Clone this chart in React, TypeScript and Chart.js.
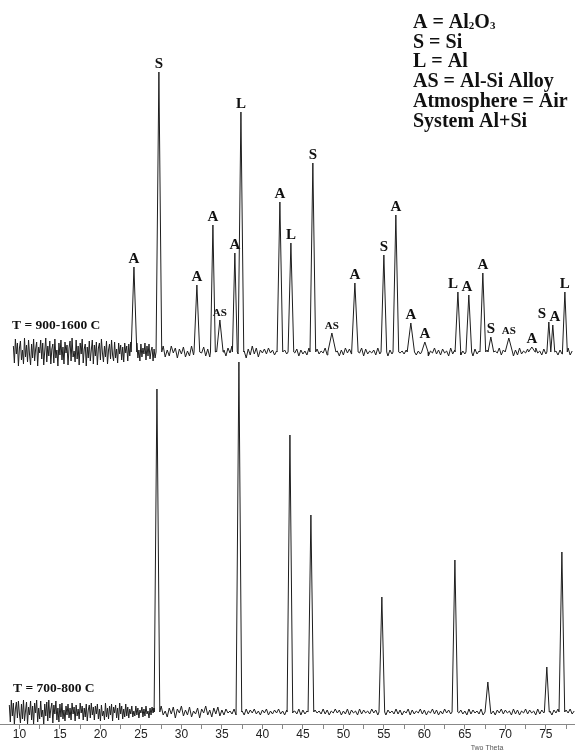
import React, { useEffect, useRef } from 'react';
import { Chart, registerables } from 'chart.js';

Chart.register(...registerables);

// ---------- scan / layout constants (data units) ----------
const TOP_BASELINE = 372; // vertical offset of the upper pattern (a.u.)
const BOTTOM_BASELINE = 12;
const Y_MAX = 724;
const X_MIN = 7.6;
const X_MAX = 78.6;

// ---------- axis ----------
const majorTicks = [10, 15, 20, 25, 30, 35, 40, 45, 50, 55, 60, 65, 70, 75];
const tickLabels = ['10', '15', '20', '25', '30', '35', '40', '45', '50', '55', '60', '65', '70', '75'];
const xAxisTitle = 'Two Theta';

// ---------- text ----------
const seriesNames = ['T = 900-1600 C', 'T = 700-800 C'];
const legendLines = ['A = Al2O3', 'S = Si', 'L = Al', 'AS = Al-Si Alloy', 'Atmosphere = Air', 'System Al+Si'];

// ---------- background noise (read, a.u.) ----------
// upper pattern: fine steps (0.125) at low angle, 0.25 above 27.25
const TOP_LOW_START = 9.25;
const TOP_LOW_STEP = 0.125;
const topNoiseLow = [
  6, -11, 13, -2, 9, -14, 4, 11, -8, 2, -12, 14, -5, 7, -10, 12, -3, -13, 8, -6,
  13, -9, 3, 10, -14, 5, -1, 12, -7, 9, -13, 1, 14, -10, 6, -4, 11, -12, 3, 8,
  -11, 13, -6, 2, -14, 9, -3, 12, -8, 5, -12, 10, -1, 7, -13, 4, 11, -9, 14, -5,
  1, -10, 12, -7, 6, -13, 9, -2, 13, -11, 3, 8, -14, 5, -6, 11, -9, 2, 12, -12,
  7, -4, 10, -13, 4, 9, -8, 13, -1, -10, 6, -5, 11, -12, 2, 8, -7, 12, -3, -9,
  10, -6, 3, -11, 9, -2, 7, -8, 5, -10, 9, -1, 6, -9, 8, -4, 10, -7, 3, -8,
  7, -3, 9, -6, 2, -9, 8, -5, 4, -2, 9, -8, 6, -4, 8, -7, 1, 5, -9, 3,
  -6, 8, -4,
];
const TOP_HIGH_START = 27.25;
const TOP_HIGH_STEP = 0.25;
const topNoiseHigh = [
  5, -3, 6, -5, 2, -4, 6, -1, 4, -6, 3, -2, 5, -5, 1, -4, 6, -3, 2, -6,
  4, -1, 5, -4, 3, -5, 6, -2, 1, -3, 5, -6, 2, -4, 4, -1, 6, -5, 3, -2,
  5, -4, 1, -6, 3, -3, 6, -2, 4, -5, 2, -1,
  3, -2, 4, -1, 2, -3, 1, -4, 3, -1, 2, -2, 4, -3, 1, -1, 3, -4, 2, -2,
  1, -3, 4, -1, 2, -4, 3, -2, 1, -1, 4, -3, 2, -1, 3, -2, 1, -4, 2, -3,
  4, -1, 3, -2, 1, -3, 2, -1, 4, -4, 3, -2, 1, -1, 2, -3, 4, -2, 3, -1,
  1, -4, 2, -2, 3, -3, 4, -1, 1, -2, 2, -4, 3, -1, 4, -3, 1, -2, 2, -1,
  3, -4, 1, -1, 4, -2, 2, -3, 3, -1, 1, -4, 4, -2, 2, -1, 3, -3, 1, -2,
  4, -1, 2, -4, 3, -2, 1, -3, 4, -1, 2, -2, 3, -4, 1, -1, 4, -3, 2, -2,
  3, -1, 1, -4, 2, -3, 4, -2, 1, -1, 3, -2, 2, -4, 4, -1, 1, -3, 3, -2,
  2, -1, 4, -4, 1, -3, 2, -2, 3, -1, 4, -3, 1,
];
// lower pattern
const BOTTOM_LOW_START = 8.75;
const BOTTOM_LOW_STEP = 0.125;
const bottomNoiseLow = [
  7, -10, 12, -4, 9, -12, 3, 10, -6, 11, -2, -11, 8, -7, 12, -9, 1, 10, -12, 5,
  -3, 11, -8, 6, -12, 9, -1, 12, -10, 4, -7, 11, -5, 2, -12, 8, -4, 10, -9, 12,
  -6, 3, 9, -11, 7, -2, 11, -8, 4, -10, 8, -5, 9, -7, 2, -9, 6, -3, 8, -6,
  4, -8, 9, -2, 5, -9, 7, -4, 3, -7, 9, -1, 6, -8, 4, -5, 8, -9, 2, 7,
  -6, 9, -3, 5, -8, 6, -2, 8, -7, 3, -9, 7, -4, 1, -8, 9, -5, 4, -7, 6,
  -3, 8, -9, 5, -1, 7, -6, 4, -8, 9, -2, 6, -7, 3, -5, 8, -4, 5, -6, 3,
  -2, 6, -5, 1, -4, 6, -3, 4, -6, 2, -1, 5, -5, 3, -4, 6, -2, 1, -6, 4,
  -3, 5, -1, 4,
];
const BOTTOM_HIGH_START = 26.75;
const BOTTOM_HIGH_STEP = 0.25;
const bottomNoiseHigh = [
  -1, 2, -4, 6, -3, 1, -5, 4, -2, 5, -6, 3, -1, 6, -4, 2, -3, 5, -5, 1, -2, 4, -6, 3, -1, 6, -3, 2, -5, 4, -2, 5, -4,
  2, -3, 3, -1, 1, -2, 3, -3, 2, -1, 1, -3, 3, -2, 2, -1, 3, -2, 1, -3,
  2, -1, 3, -3, 1, -2, 2, -1, 3, -2, 1, -3, 2, -2, 3, -1, 1, -2, 3, -3,
  2, -2, 1, -1, 3, -3, 2, -1, 1, -2, 3, -2, 2, -3, 1, -1, 3, -1, 2, -3,
  1, -2, 3, -3, 2, -1, 1, -3, 3, -2, 2, -1, 1, -2, 3, -1, 2, -3, 1, -2,
  3, -3, 2, -1, 1, -2, 3, -2, 2, -3, 1, -1, 3, -3, 2, -2, 1, -1, 3, -2,
  2, -3, 1, -1, 3, -2, 2, -3, 1, -2, 3, -1, 2, -2, 1, -3, 3, -1, 2, -2,
  1, -3, 3, -2, 2, -1, 1, -2, 3, -3, 2, -1, 3, -2, 1, -3, 2, -1, 3, -2,
  2, -1, 1, -3, 3, -2, 2, -3, 1, -1, 3, -2, 2, -1, 1, -3, 3, -2, 2, -1,
  3, -2, 1, -3, 2, -1, 3, -3, 1, -2, 2, -1, 3, -2, 1,
];

// ---------- peaks, upper pattern (T = 900-1600 C) ----------
const topPeakPhase = ['A', 'S', 'A', 'A', 'AS', 'A', 'L', 'A', 'L', 'S', 'AS', 'A', 'S', 'A', 'A', 'A', 'L', 'A', 'A', 'S', 'AS', 'A', 'S', 'A', 'L'];
const topPeakPos = [24.14, 27.22, 31.91, 33.89, 34.75, 36.6, 37.35, 42.16, 43.52, 46.23, 48.58, 51.42, 55.0, 56.48, 58.33, 60.06, 64.14, 65.49, 67.22, 68.21, 70.43, 73.27, 75.37, 75.86, 77.35];
const topPeakHeight = [85, 280, 67, 127, 32, 99, 240, 150, 109, 189, 19, 69, 97, 137, 29, 10, 60, 57, 79, 15, 14, 5, 30, 27, 60];
const topPeakHalfWidth = [0.35, 0.35, 0.35, 0.3, 0.4, 0.3, 0.35, 0.35, 0.35, 0.35, 0.5, 0.4, 0.35, 0.35, 0.45, 0.4, 0.35, 0.35, 0.35, 0.35, 0.45, 0.4, 0.24, 0.24, 0.3];

// ---------- peaks, lower pattern (T = 700-800 C) ----------
const bottomPeakPos = [26.98, 37.1, 43.4, 45.99, 54.75, 63.77, 67.84, 75.12, 76.98];
const bottomPeakHeight = [323, 350, 277, 197, 115, 152, 30, 45, 160];
const bottomPeakHalfWidth = [0.35, 0.35, 0.35, 0.35, 0.35, 0.35, 0.35, 0.3, 0.35];

// label nudges in px (style only)
const labelNudgeX: Record<number, number> = { 16: -5, 17: -2, 22: -7, 23: 2 };

type Pt = { x: number; y: number };
type Segment = { start: number; step: number; values: number[] };

function buildTrace(segments: Segment[], base: number, pos: number[], h: number[], hw: number[]): Pt[] {
  const pts: Pt[] = [];
  segments.forEach((seg) => {
    seg.values.forEach((n, i) => {
      const x = seg.start + i * seg.step;
      if (pos.some((p, k) => Math.abs(x - p) <= hw[k])) return;
      pts.push({ x, y: base + n });
    });
  });
  pos.forEach((p, k) => {
    pts.push({ x: p - hw[k], y: base }, { x: p, y: base + h[k] }, { x: p + hw[k], y: base });
  });
  pts.sort((a, b) => a.x - b.x);
  return pts;
}

const SERIF = '"Liberation Serif", "Times New Roman", serif';

const annotations = {
  id: 'xrdAnnotations',
  afterDatasetsDraw(chart: any) {
    const { ctx } = chart;
    const xs = chart.scales.x;
    const ys = chart.scales.y;
    ctx.save();
    ctx.fillStyle = '#111';
    ctx.textAlign = 'center';
    ctx.textBaseline = 'alphabetic';
    topPeakPhase.forEach((ph, k) => {
      const px = xs.getPixelForValue(topPeakPos[k]) + (labelNudgeX[k] || 0);
      const py = ys.getPixelForValue(TOP_BASELINE + topPeakHeight[k]) - 4;
      ctx.font = ph === 'AS' ? `bold 11px ${SERIF}` : `bold 15px ${SERIF}`;
      ctx.fillText(ph, px, py);
    });

    // series names
    ctx.textAlign = 'left';
    ctx.font = `bold 13.5px ${SERIF}`;
    ctx.fillText(seriesNames[0], 12, 329);
    ctx.fillText(seriesNames[1], 13, 692);

    // legend with subscript digits
    legendLines.forEach((line, i) => {
      let x = 413;
      const y = 28 + i * 19.7;
      for (const ch of line) {
        const sub = /[0-9]/.test(ch);
        ctx.font = sub ? `bold 11px ${SERIF}` : `bold 20px ${SERIF}`;
        ctx.fillText(ch, x, sub ? y + 1 : y);
        x += ctx.measureText(ch).width;
      }
    });

    // axis title
    ctx.font = '7px "Liberation Sans", sans-serif';
    ctx.fillStyle = '#555';
    ctx.textAlign = 'center';
    ctx.fillText(xAxisTitle, 487, 750);
    ctx.restore();
  },
};

export default function App() {
  const ref = useRef<HTMLCanvasElement | null>(null);
  useEffect(() => {
    if (!ref.current) return;
    const top = buildTrace(
      [
        { start: TOP_LOW_START, step: TOP_LOW_STEP, values: topNoiseLow },
        { start: TOP_HIGH_START, step: TOP_HIGH_STEP, values: topNoiseHigh },
      ],
      TOP_BASELINE, topPeakPos, topPeakHeight, topPeakHalfWidth,
    );
    const bottom = buildTrace(
      [
        { start: BOTTOM_LOW_START, step: BOTTOM_LOW_STEP, values: bottomNoiseLow },
        { start: BOTTOM_HIGH_START, step: BOTTOM_HIGH_STEP, values: bottomNoiseHigh },
      ],
      BOTTOM_BASELINE, bottomPeakPos, bottomPeakHeight, bottomPeakHalfWidth,
    );
    const chart = new Chart(ref.current, {
      type: 'line',
      data: {
        datasets: [
          { label: seriesNames[0], data: top, borderColor: '#1e1e1e', borderWidth: 1, pointRadius: 0, tension: 0, fill: false },
          { label: seriesNames[1], data: bottom, borderColor: '#1e1e1e', borderWidth: 1, pointRadius: 0, tension: 0, fill: false },
        ],
      },
      options: {
        animation: false,
        responsive: true,
        maintainAspectRatio: false,
        parsing: false as any,
        layout: { padding: 0 },
        plugins: { legend: { display: false }, tooltip: { enabled: false }, title: { display: false } },
        scales: {
          x: {
            type: 'linear',
            min: X_MIN,
            max: X_MAX,
            afterBuildTicks: (scale: any) => {
              scale.ticks = majorTicks.flatMap((v) => [{ value: v }, { value: v + 2.5 }]);
            },
            afterFit: (scale: any) => {
              scale.height = 26;
            },
            ticks: {
              autoSkip: false,
              maxRotation: 0,
              padding: -2,
              color: '#222',
              font: { family: '"Liberation Sans", Arial, sans-serif', size: 12 },
              callback: (value: any) => {
                const i = majorTicks.indexOf(Number(value));
                return i >= 0 ? tickLabels[i] : '';
              },
            },
            grid: { display: true, drawOnChartArea: false, drawTicks: true, tickLength: 5, color: '#888' },
            border: { display: true, color: '#888', width: 1 },
          },
          y: { display: false, min: 0, max: Y_MAX },
        },
      },
      plugins: [annotations],
    });
    return () => chart.destroy();
  }, []);
  return (
    <div style={{ position: 'absolute', left: 0, top: 0, width: 575, height: 750, background: '#fff' }}>
      <canvas ref={ref} />
    </div>
  );
}
